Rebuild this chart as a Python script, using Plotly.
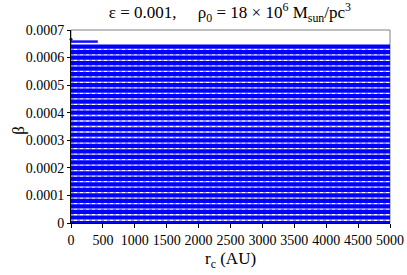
import plotly.graph_objects as go

# beta levels of the dense horizontal lines (full r_c range)
beta_levels = [0.00000, 0.00002, 0.00004, 0.00006, 0.00008, 0.00010, 0.00012,
               0.00014, 0.00016, 0.00018, 0.00020, 0.00022, 0.00024, 0.00026,
               0.00028, 0.00030, 0.00032, 0.00034, 0.00036, 0.00038, 0.00040,
               0.00042, 0.00044, 0.00046, 0.00048, 0.00050, 0.00052, 0.00054,
               0.00056, 0.00058, 0.00060, 0.00062, 0.00064]
# intermediate faint (dotted) levels in the gaps
gap_levels = [0.00001, 0.00003, 0.00005, 0.00007, 0.00009, 0.00011, 0.00013,
              0.00015, 0.00017, 0.00019, 0.00021, 0.00023, 0.00025, 0.00027,
              0.00029, 0.00031, 0.00033, 0.00035, 0.00037, 0.00039, 0.00041,
              0.00043, 0.00045, 0.00047, 0.00049, 0.00051, 0.00053, 0.00055,
              0.00057, 0.00059, 0.00061, 0.00063]
rc_range = [0, 5000]
# short top segment
short_beta = 0.000658
short_rc = [0, 420]
dot_rc = [0]
dot_beta = [0.000666]

x_ticks = [0, 500, 1000, 1500, 2000, 2500, 3000, 3500, 4000, 4500, 5000]
y_ticks = [0, 0.0001, 0.0002, 0.0003, 0.0004, 0.0005, 0.0006, 0.0007]
y_ticktext = ["0", "0.0001", "0.0002", "0.0003", "0.0004", "0.0005", "0.0006", "0.0007"]

fig = go.Figure()
for b in gap_levels:
    fig.add_trace(go.Scatter(x=rc_range, y=[b, b], mode="lines",
                             line=dict(color="#9a9aff", width=1.5, dash="dot"),
                             showlegend=False, hoverinfo="skip"))
for b in beta_levels:
    fig.add_trace(go.Scatter(x=rc_range, y=[b, b], mode="lines",
                             line=dict(color="#0000ff", width=4.2),
                             showlegend=False))
fig.add_trace(go.Scatter(x=short_rc, y=[short_beta, short_beta], mode="lines",
                         line=dict(color="#1010ff", width=2.5),
                         showlegend=False))
fig.add_trace(go.Scatter(x=dot_rc, y=dot_beta, mode="markers",
                         marker=dict(color="#0000ff", size=3),
                         showlegend=False, cliponaxis=False))

font = "Liberation Serif, Times New Roman, serif"
fig.update_layout(
    width=407, height=275,
    margin=dict(l=71, r=17, t=30, b=52, autoexpand=False),
    paper_bgcolor="white", plot_bgcolor="white",
    font=dict(family=font, size=14, color="black"),
    title=dict(text="ε = 0.001,     ρ<sub>0</sub> = 18 × 10<sup>6</sup> M<sub>sun</sub>/pc<sup>3</sup>",
               x=0.565, xanchor="center", y=0.955, yanchor="middle",
               font=dict(family=font, size=17)),
    xaxis=dict(range=[0, 5000], tickvals=x_ticks, ticks="outside", ticklen=4,
               tickcolor="black", showline=True, linecolor="black", linewidth=1,
               showgrid=False, zeroline=False, automargin=False),
    yaxis=dict(range=[0, 0.0007], tickvals=y_ticks, ticktext=y_ticktext,
               ticks="outside", ticklen=3, tickcolor="black",
               showline=True, linecolor="black", linewidth=1,
               showgrid=False, zeroline=False, automargin=False),
    shapes=[dict(type="rect", xref="paper", yref="paper", x0=0, y0=0, x1=1, y1=1,
                 line=dict(color="#808080", width=1), layer="below")],
    annotations=[
        dict(text="r<sub>c</sub> (AU)", xref="paper", yref="paper", x=0.5, y=-0.19,
             xanchor="center", yanchor="middle", showarrow=False,
             font=dict(family=font, size=17)),
        dict(text="β", xref="paper", yref="paper", x=-0.165, y=0.48,
             xanchor="center", yanchor="middle", showarrow=False, textangle=-90,
             font=dict(family=font, size=17)),
    ],
)
fig.write_html("out.html", config={"displayModeBar": False},
               post_script="document.body.style.margin='0px';")
